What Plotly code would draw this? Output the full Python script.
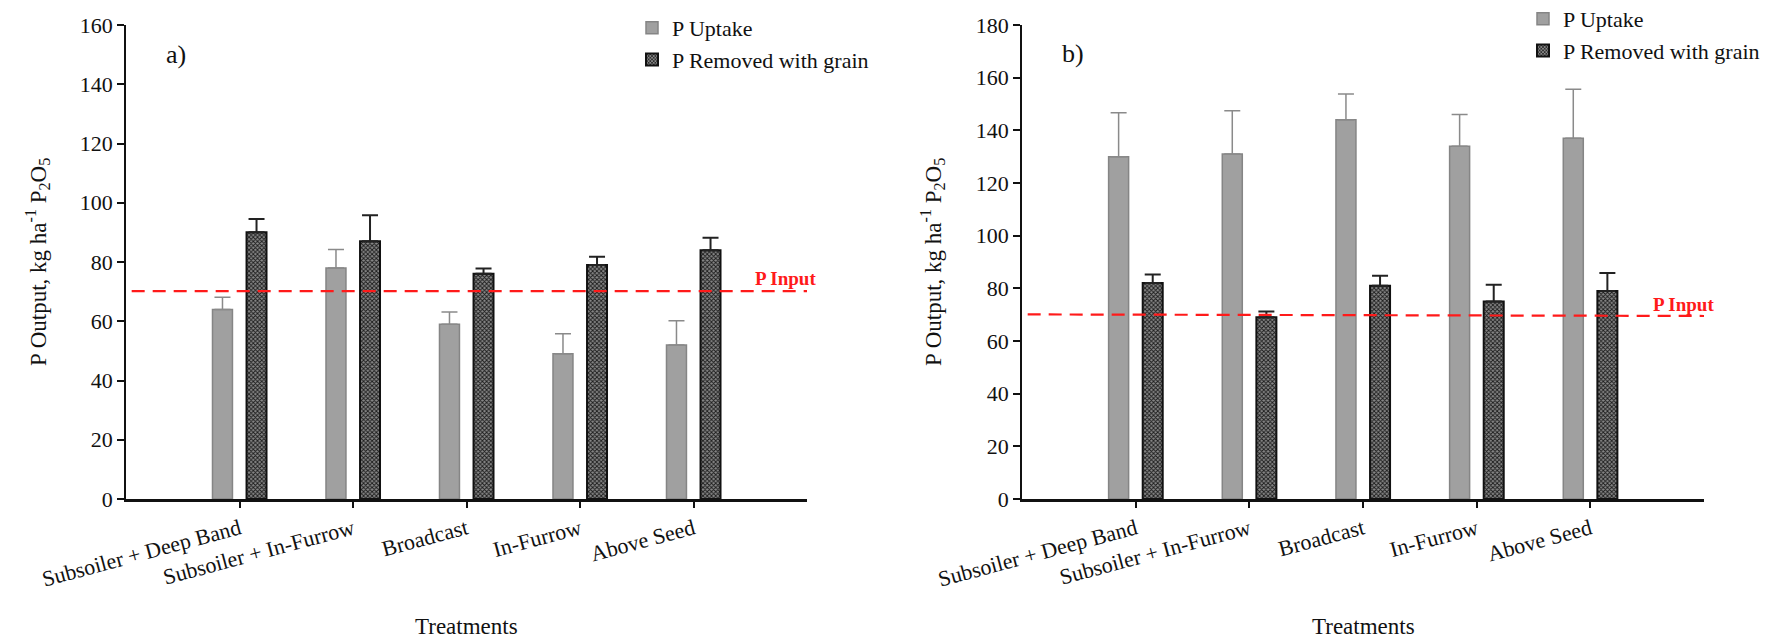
import plotly.graph_objects as go

# ---------------- data ----------------
categories = ["Subsoiler + Deep Band", "Subsoiler + In-Furrow", "Broadcast", "In-Furrow", "Above Seed"]

a_uptake = [64, 78, 59, 49, 52]
a_uptake_err = [4.1, 6.2, 4.1, 6.8, 8.2]
a_grain = [90, 87, 76, 79, 84]
a_grain_err = [4.5, 8.8, 1.8, 2.8, 4.2]

b_uptake = [130, 131, 144, 134, 137]
b_uptake_err = [16.7, 16.4, 9.8, 12.0, 18.6]
b_grain = [82, 69, 81, 75, 79]
b_grain_err = [3.3, 2.2, 3.8, 6.4, 6.8]

p_input_a = [70.2, 70.2]
p_input_b = [70.1, 69.5]

series_names = ["P Uptake", "P Removed with grain"]
panel_labels = ["a)", "b)"]
x_title = "Treatments"
y_title = "P Output, kg ha<sup>-1</sup> P<sub>2</sub>O<sub>5</sub>"
input_label = "P Input"

FONT = "Liberation Serif"
# the page has an 8px body margin (top-left): size the figure to reach the window's far edges
PAD = 8
FW, FH = 1780 - PAD, 642 - PAD


def fx(px):
    return (px - PAD) / FW


def fy(py):
    return 1 - (py - PAD) / FH


xpos = list(range(len(categories)))
x_range = [-1, len(categories)]
line_x = [x_range[0] + 0.05, x_range[1]]

fig = go.Figure()


def add_panel(xa, ya, leg, up, up_err, gr, gr_err, pin):
    fig.add_trace(go.Bar(
        x=xpos, y=up, name=series_names[0], xaxis=xa, yaxis=ya, legend=leg,
        width=0.176, offset=-0.238,
        marker=dict(color="#a0a0a0", line=dict(color="#858585", width=1.5)),
        error_y=dict(type="data", symmetric=False, array=up_err, arrayminus=[0] * len(up_err),
                     color="#8a8a8a", thickness=1.5, width=8),
    ))
    fig.add_trace(go.Bar(
        x=xpos, y=gr, name=series_names[1], xaxis=xa, yaxis=ya, legend=leg,
        width=0.176, offset=0.062,
        marker=dict(color="#6c6c6c", line=dict(color="#111111", width=2),
                    pattern=dict(shape="x", fgcolor="#1a1a1a", bgcolor="#888888", size=3, solidity=0.5)),
        error_y=dict(type="data", symmetric=False, array=gr_err, arrayminus=[0] * len(gr_err),
                     color="#222222", thickness=2, width=8),
    ))
    fig.add_trace(go.Scatter(
        x=line_x, y=pin, mode="lines", xaxis=xa, yaxis=ya, showlegend=False,
        line=dict(color="#ff1a1a", width=2.2, dash="13px,8px"), hoverinfo="skip",
    ))


add_panel("x", "y", "legend", a_uptake, a_uptake_err, a_grain, a_grain_err, p_input_a)
add_panel("x2", "y2", "legend2", b_uptake, b_uptake_err, b_grain, b_grain_err, p_input_b)

ydom = [fy(499), fy(25)]
axis_common = dict(showgrid=False, zeroline=False, showline=True, linecolor="#111111",
                   ticks="outside", tickcolor="#111111", automargin=False,
                   tickfont=dict(family=FONT, size=22, color="#111111"))
xaxis_common = dict(range=x_range, tickmode="array", tickvals=xpos, ticktext=categories,
                    tickangle=-15, linewidth=2.5, ticklen=6, tickwidth=1.5, **axis_common)
yaxis_common = dict(dtick=20, linewidth=1.5, ticklen=7, tickwidth=1.5, **axis_common)

fig.update_layout(
    template="none",
    width=FW, height=FH,
    margin=dict(l=0, r=0, t=0, b=0, autoexpand=False),
    paper_bgcolor="white", plot_bgcolor="white",
    barmode="overlay",
    showlegend=True,
    font=dict(family=FONT, size=22, color="#111111"),
    xaxis=dict(domain=[fx(126), fx(807)], anchor="y", **xaxis_common),
    yaxis=dict(domain=ydom, anchor="x", range=[0, 160], **yaxis_common),
    xaxis2=dict(domain=[fx(1022), fx(1704)], anchor="y2", **xaxis_common),
    yaxis2=dict(domain=ydom, anchor="x2", range=[0, 180], **yaxis_common),
    legend=dict(x=fx(632), y=fy(7), xanchor="left", yanchor="top",
                font=dict(family=FONT, size=22, color="#111111"), bgcolor="rgba(0,0,0,0)",
                tracegroupgap=0, itemwidth=30),
    legend2=dict(x=fx(1523), y=fy(-2), xanchor="left", yanchor="top",
                 font=dict(family=FONT, size=22, color="#111111"), bgcolor="rgba(0,0,0,0)",
                 tracegroupgap=0, itemwidth=30),
)

ann = []
ann.append(dict(text=panel_labels[0], x=fx(176), y=fy(55), xref="paper", yref="paper",
                xanchor="center", yanchor="middle", showarrow=False,
                font=dict(family=FONT, size=26, color="#111111")))
ann.append(dict(text=panel_labels[1], x=fx(1073), y=fy(53), xref="paper", yref="paper",
                xanchor="center", yanchor="middle", showarrow=False,
                font=dict(family=FONT, size=26, color="#111111")))
for xc in (38, 933):
    ann.append(dict(text=y_title, x=fx(xc), y=fy(262), xref="paper", yref="paper",
                    xanchor="center", yanchor="middle", textangle=-90, showarrow=False,
                    font=dict(family=FONT, size=23, color="#111111")))
for xc in (466, 1363):
    ann.append(dict(text=x_title, x=fx(xc), y=fy(626), xref="paper", yref="paper",
                    xanchor="center", yanchor="middle", showarrow=False,
                    font=dict(family=FONT, size=23, color="#111111")))
ann.append(dict(text="<b>" + input_label + "</b>", x=4.81, y=74.3, xref="x", yref="y",
                xanchor="center", yanchor="middle", showarrow=False,
                font=dict(family=FONT, size=19, color="#ff1a1a")))
ann.append(dict(text="<b>" + input_label + "</b>", x=4.82, y=73.9, xref="x2", yref="y2",
                xanchor="center", yanchor="middle", showarrow=False,
                font=dict(family=FONT, size=19, color="#ff1a1a")))
fig.update_layout(annotations=ann)

fig.write_html("out.html")
